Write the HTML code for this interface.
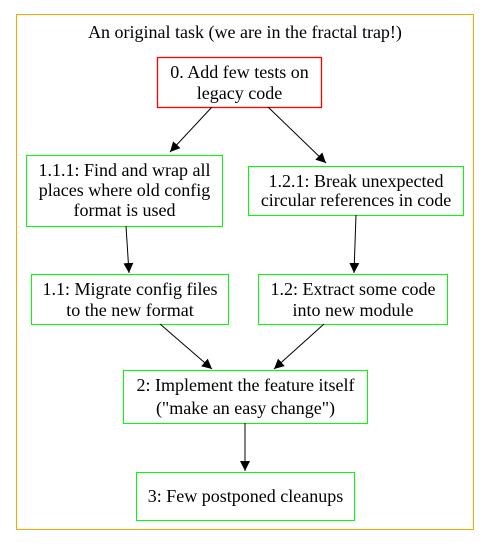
<!DOCTYPE html>
<html><head><meta charset="utf-8"><style>
html,body{margin:0;padding:0;background:#fff;}
svg{display:block;}
text{font-family:"Liberation Serif",serif;font-size:18px;fill:#000;}
</style></head><body>
<svg width="491" height="547" viewBox="0 0 491 547" xmlns="http://www.w3.org/2000/svg">
<defs><marker id="a" viewBox="0 0 10 10" refX="10" refY="5" markerWidth="10" markerHeight="10" markerUnits="userSpaceOnUse" orient="auto"><path d="M0,0 L10,5 L0,10 z" fill="#000"/></marker></defs>
<rect x="16.5" y="14.5" width="457" height="515" fill="none" stroke="#ffa500"/>
<text x="245" y="38" text-anchor="middle">An original task (we are in the fractal trap!)</text>
<rect x="157.5" y="57.5" width="164" height="50" fill="none" style="stroke:#ff0000" stroke-width="1.3"/>
<text x="239.5" y="78" text-anchor="middle">0. Add few tests on</text>
<text x="239.5" y="99" text-anchor="middle">legacy code</text>
<rect x="26.5" y="155.5" width="196" height="71" fill="none" stroke="#00ff00"/>
<text x="124.5" y="176" text-anchor="middle">1.1.1: Find and wrap all</text>
<text x="124.5" y="196" text-anchor="middle">places where old config</text>
<text x="124.5" y="216" text-anchor="middle">format is used</text>
<rect x="248.5" y="166.5" width="215" height="49" fill="none" stroke="#00ff00"/>
<text x="356" y="187" text-anchor="middle">1.2.1: Break unexpected</text>
<text x="356" y="206" text-anchor="middle">circular references in code</text>
<rect x="31.5" y="274.5" width="197" height="50" fill="none" stroke="#00ff00"/>
<text x="130" y="295" text-anchor="middle">1.1: Migrate config files</text>
<text x="130" y="316" text-anchor="middle">to the new format</text>
<rect x="258.5" y="274.5" width="189" height="50" fill="none" stroke="#00ff00"/>
<text x="353" y="295" text-anchor="middle">1.2: Extract some code</text>
<text x="353" y="316" text-anchor="middle">into new module</text>
<rect x="123.5" y="370.5" width="244" height="53" fill="none" stroke="#00ff00"/>
<text x="245.5" y="391" text-anchor="middle">2: Implement the feature itself</text>
<text x="245.5" y="414" text-anchor="middle">("make an easy change")</text>
<rect x="136.5" y="472.5" width="218" height="48" fill="none" stroke="#00ff00"/>
<text x="245.5" y="502" text-anchor="middle">3: Few postponed cleanups</text>
<g stroke="#000" stroke-width="1" marker-end="url(#a)">
<line x1="212" y1="107" x2="170" y2="152"/>
<line x1="268" y1="107" x2="326" y2="163"/>
<line x1="126" y1="226" x2="129" y2="273"/>
<line x1="356" y1="215" x2="354" y2="273"/>
<line x1="160" y1="324" x2="212" y2="369"/>
<line x1="324" y1="324" x2="274" y2="369"/>
<line x1="245" y1="423" x2="245" y2="471"/>
</g>
</svg>
</body></html>
